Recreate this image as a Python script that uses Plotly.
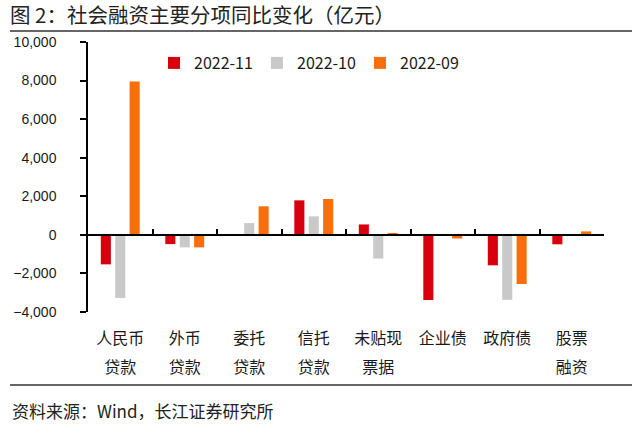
import plotly.graph_objects as go

cat_line1 = ["人民币", "外币", "委托", "信托", "未贴现", "企业债", "政府债", "股票"]
cat_line2 = ["贷款", "贷款", "贷款", "贷款", "票据", "", "", "融资"]
categories = [a + b for a, b in zip(cat_line1, cat_line2)]
series_names = ["2022-11", "2022-10", "2022-09"]
v_2022_11 = [-1530, -480, -50, 1790, 540, -3380, -1580, -490]
v_2022_10 = [-3270, -650, 610, 960, -1230, 0, -3370, 0]
v_2022_09 = [7950, -650, 1480, 1860, 60, -190, -2550, 180]
colors = ["#D9000D", "#C9C9C9", "#F96E0C"]
y_ticks = [-4000, -2000, 0, 2000, 4000, 6000, 8000, 10000]

W, H = 640, 427
L, R, T, B = 88, 36, 42, 115
pw, ph = W - L - R, H - T - B
ymin, ymax = -4000, 10000

def px_x(p):
    return (p - L) / pw

def px_y(p):
    return (H - B - p) / ph

fig = go.Figure()
for name, vals, c in zip(series_names, [v_2022_11, v_2022_10, v_2022_09], colors):
    fig.add_trace(go.Bar(x=categories, y=vals, name=name, marker=dict(color=c, line=dict(width=0))))

# invisible helper traces for the two rows of category labels
for ax in ["x2", "x3"]:
    fig.add_trace(go.Scatter(x=categories, y=[0] * len(categories), xaxis=ax, mode="none",
                             showlegend=False, hoverinfo="skip"))

zero_pos = (0 - ymin) / (ymax - ymin)
cjk = "Noto Sans CJK SC"
label_font = dict(family=cjk, size=16, color="#1a1a1a")

fig.update_layout(
    width=W, height=H,
    margin=dict(l=L, r=R, t=T, b=B, pad=0),
    paper_bgcolor="white", plot_bgcolor="white",
    barmode="group", bargap=0.33, bargroupgap=0.3,
    font=dict(family="Liberation Sans, Arial", size=14, color="#1a1a1a"),
    title=dict(text="图 2：社会融资主要分项同比变化（亿元）", xref="container", yref="container",
               x=10 / W, y=1 - 16 / H, xanchor="left", yanchor="middle",
               font=dict(family=cjk, size=20.5, color="#222222")),
    xaxis=dict(type="category", anchor="free", position=zero_pos, showline=True, linecolor="black",
               linewidth=1.5, ticks="inside", tickson="boundaries", ticklen=5, tickwidth=1.5,
               tickcolor="black", showticklabels=False, showgrid=False, zeroline=False),
    xaxis2=dict(type="category", overlaying="x", matches="x", anchor="y", side="bottom", showline=False,
                ticks="", showgrid=False, zeroline=False, showticklabels=True,
                tickvals=categories, ticktext=cat_line1, tickfont=label_font, ticklabelstandoff=15),
    xaxis3=dict(type="category", overlaying="x", matches="x", anchor="y", side="bottom", showline=False,
                ticks="", showgrid=False, zeroline=False, showticklabels=True,
                tickvals=categories, ticktext=cat_line2, tickfont=label_font, ticklabelstandoff=44),
    yaxis=dict(range=[ymin, ymax], tickvals=y_ticks, tickformat=",", showline=True, linecolor="black",
               linewidth=1.5, ticks="outside", ticklen=6, tickwidth=1.5, tickcolor="black",
               showgrid=False, zeroline=False, ticklabelstandoff=21,
               tickfont=dict(family="Liberation Sans, Arial", size=14, color="#1a1a1a")),
    legend=dict(orientation="h", x=px_x(154), y=px_y(63), xanchor="left", yanchor="middle",
                font=dict(family=cjk, size=16, color="#1a1a1a"), itemwidth=30,
                entrywidth=58, entrywidthmode="pixels", bgcolor="rgba(0,0,0,0)", traceorder="normal"),
    showlegend=True,
    shapes=[
        dict(type="line", xref="paper", yref="paper", x0=px_x(10), x1=px_x(632), y0=px_y(31), y1=px_y(31),
             line=dict(color="#333333", width=1.5)),
        dict(type="line", xref="paper", yref="paper", x0=px_x(10), x1=px_x(632), y0=px_y(385), y1=px_y(385),
             line=dict(color="#333333", width=1.5)),
    ],
    annotations=[
        dict(text="资料来源：Wind，长江证券研究所", xref="paper", yref="paper", x=px_x(10), y=px_y(410),
             xanchor="left", yanchor="middle", showarrow=False,
             font=dict(family=cjk, size=17, color="#222222")),
    ],
)

fig.write_html("out.html", config={"displayModeBar": False},
               post_script="document.body.style.margin='0px';")
